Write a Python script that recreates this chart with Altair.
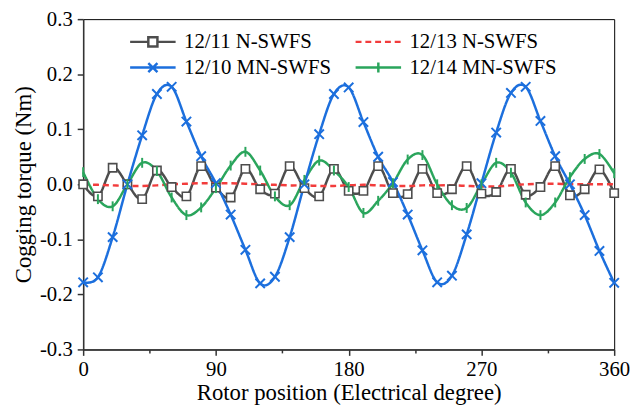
import altair as alt
import pandas as pd

degrees = list(range(0, 361, 10))

s_12_11 = [0.000, -0.022, 0.030, 0.000, -0.027, 0.025, -0.005, -0.022, 0.033, -0.006,
           -0.024, 0.028, -0.009, -0.017, 0.033, -0.007, -0.022, 0.028, -0.012, -0.012,
           0.033, -0.016, -0.018, 0.028, -0.016, -0.009, 0.033, -0.017, -0.014, 0.028,
           -0.019, -0.005, 0.033, -0.020, -0.009, 0.027, -0.016]
s_12_13 = [0.000, -0.001, -0.002, -0.003, -0.003, -0.002, 0.000, 0.001, 0.002, 0.002,
           0.002, 0.001, 0.000, -0.001, -0.002, -0.002, -0.003, -0.003, -0.002, -0.001,
           -0.002, -0.003, -0.003, -0.002, -0.002, -0.002, -0.003, -0.004, -0.004, -0.002,
           0.000, 0.001, 0.001, 0.000, 0.000, 0.000, 0.000]
s_12_10 = [-0.178, -0.169, -0.096, 0.000, 0.089, 0.164, 0.177, 0.114, 0.051, 0.002,
           -0.055, -0.119, -0.180, -0.168, -0.096, 0.000, 0.091, 0.164, 0.176, 0.113,
           0.050, 0.004, -0.055, -0.120, -0.178, -0.166, -0.091, 0.002, 0.094, 0.166,
           0.177, 0.115, 0.051, 0.000, -0.056, -0.121, -0.179]
s_12_14 = [0.022, -0.027, -0.040, 0.000, 0.039, 0.024, -0.024, -0.056, -0.042, -0.007,
           0.034, 0.059, 0.025, -0.022, -0.038, 0.008, 0.043, 0.025, -0.005, -0.052,
           -0.030, 0.002, 0.045, 0.053, 0.000, -0.038, -0.043, 0.000, 0.039, 0.021,
           -0.033, -0.056, -0.033, 0.013, 0.046, 0.055, 0.020]

# legend entries are laid out column by column
names = ["12/11 N-SWFS", "12/10 MN-SWFS", "12/13 N-SWFS", "12/14 MN-SWFS"]
colors = ["#4d4d4d", "#1c6fdd", "#f23c3c", "#2aa55c"]
series_values = [s_12_11, s_12_10, s_12_13, s_12_14]

rows = []
for name, vals in zip(names, series_values):
    for d, v in zip(degrees, vals):
        rows.append({"deg": d, "v": v, "series": name})
df = pd.DataFrame(rows)

FONT = "Liberation Serif"
x_scale = alt.Scale(domain=[0, 360], nice=False, zero=False)
y_scale = alt.Scale(domain=[-0.3, 0.3], nice=False, zero=False)

x_axis = alt.Axis(
    values=[0, 45, 90, 135, 180, 225, 270, 315, 360],
    labelExpr="datum.value % 90 == 0 ? format(datum.value, 'd') : ''",
    title="Rotor position (Electrical degree)",
    tickSize=6, labelPadding=3, titlePadding=3,
    tickDash={"condition": {"test": "datum.value % 90 != 0", "value": [3.5, 20]}, "value": [20, 0]},
    grid=False, labelFlush=False,
)
y_axis = alt.Axis(
    values=[-0.3, -0.25, -0.2, -0.15, -0.1, -0.05, 0, 0.05, 0.1, 0.15, 0.2, 0.25, 0.3],
    labelExpr="abs(datum.value*10 - round(datum.value*10)) > 0.01 ? '' : (datum.value < -0.001 ? '-' + format(-datum.value, '.1f') : format(abs(datum.value), '.1f'))",
    title="Cogging torque (Nm)",
    tickSize=6, labelPadding=5, titlePadding=4,
    tickDash={"condition": {"test": "abs(datum.value*10 - round(datum.value*10)) > 0.01", "value": [3.5, 20]}, "value": [20, 0]},
    grid=False, labelFlush=False,
)

base = alt.Chart(df)


def line_layer(name, color, dash):
    return base.transform_filter(alt.datum.series == name).mark_line(
        interpolate="cardinal", color=color, strokeWidth=2.5, strokeDash=dash
    ).encode(
        x=alt.X("deg:Q", scale=x_scale, axis=x_axis),
        y=alt.Y("v:Q", scale=y_scale, axis=y_axis),
    )


lines = [
    line_layer(names[0], colors[0], [1, 0]),
    line_layer(names[2], colors[2], [6, 4]),
    line_layer(names[3], colors[3], [1, 0]),
    line_layer(names[1], colors[1], [1, 0]),
]

mk_gray = base.transform_filter(alt.datum.series == names[0]).mark_point(
    shape="square", size=70, filled=True, fill="white", stroke=colors[0], strokeWidth=1.6, opacity=1
).encode(x="deg:Q", y="v:Q")
mk_blue = base.transform_filter(alt.datum.series == names[1]).mark_point(
    shape="M-1,-1L1,1M-1,1L1,-1", size=90, stroke=colors[1], strokeWidth=2, filled=False, opacity=1
).encode(x="deg:Q", y="v:Q")
mk_green = base.transform_filter(alt.datum.series == names[3]).mark_point(
    shape="M0,-1L0,1", size=100, stroke=colors[3], strokeWidth=2, filled=False, opacity=1
).encode(x="deg:Q", y="v:Q")

legend_shapes = [
    "M-1,0L-0.2,0M0.2,0L1,0M-0.2,-0.2L0.2,-0.2L0.2,0.2L-0.2,0.2Z",
    "M-1,0L1,0M-0.2,-0.2L0.2,0.2M-0.2,0.2L0.2,-0.2",
    "M-1,0L-0.74,0M-0.57,0L-0.31,0M-0.14,0L0.12,0M0.29,0L0.55,0M0.72,0L0.98,0",
    "M-1,0L1,0M0,-0.22L0,0.22",
]
legend = alt.Legend(
    orient="none", legendX=46, legendY=10, columns=2, title=None,
    symbolSize=2116, symbolStrokeWidth=2.5, symbolOpacity=1, symbolFillColor="white",
    clipHeight=26, labelFont=FONT, labelFontSize=21, labelColor="black",
    labelOffset=7, columnPadding=23, rowPadding=0, padding=0,
)
legend_layer = base.mark_point(opacity=0, filled=False).encode(
    x="deg:Q", y="v:Q",
    color=alt.Color("series:N", scale=alt.Scale(domain=names, range=colors), legend=legend),
    shape=alt.Shape("series:N", scale=alt.Scale(domain=names, range=legend_shapes), legend=legend),
)

chart = alt.layer(*lines, mk_gray, mk_blue, mk_green, legend_layer).properties(
    width=537, height=334,
    autosize=alt.AutoSizeParams(type="none"),
    padding={"left": 76, "top": 9, "right": 17, "bottom": 60},
).configure_view(
    stroke="black", strokeWidth=1
).configure_axis(
    labelFont=FONT, labelFontSize=21, labelColor="black",
    titleFont=FONT, titleFontSize=23, titleFontWeight="normal", titleColor="black",
    domainColor="#333333", domainWidth=1.5, tickColor="#333333", tickWidth=1.5,
)

chart.save("out.html", embed_options={"renderer": "svg", "actions": False})
